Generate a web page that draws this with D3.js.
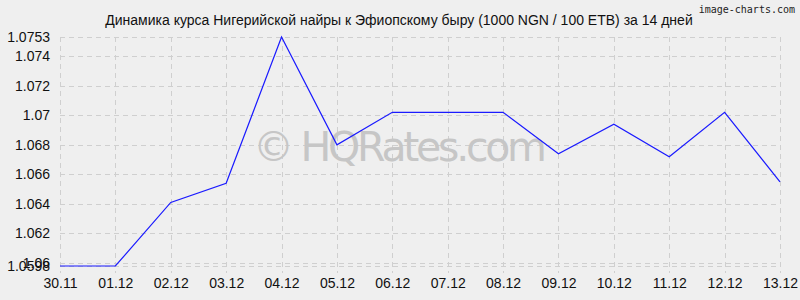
<!DOCTYPE html>
<html lang="ru">
<head>
  <meta charset="UTF-8" />
  <title>Динамика курса NGN / ETB</title>
  <script src="https://d3js.org/d3.v7.min.js"></script>
  <style>
    body { margin: 0; overflow: hidden; background: #efefef; }
    svg { background: #efefef; font-family: "Liberation Sans", Arial, sans-serif; }
    .grid line { stroke: #cfcfcf; stroke-width: 1px; stroke-dasharray: 5,4; shape-rendering: crispEdges; }
    .rate { fill: none; stroke: #1a1aff; stroke-width: 1.2px; }
  </style>
</head>
<body>
  <svg width="800" height="300"></svg>
  <script>
    const width = 800, height = 300;
    const margin = { top: 37, right: 20, bottom: 34, left: 60 };

    // данные
    const dates = ["30.11", "01.12", "02.12", "03.12", "04.12", "05.12", "06.12",
                   "07.12", "08.12", "09.12", "10.12", "11.12", "12.12", "13.12"];
    const rates = [1.0598, 1.0598, 1.0641, 1.0654, 1.0753, 1.0680, 1.0702,
                   1.0702, 1.0702, 1.0674, 1.0694, 1.0672, 1.0702, 1.0655];
    const yTicks = [1.0598, 1.06, 1.062, 1.064, 1.066, 1.068, 1.07, 1.072, 1.074, 1.0753];
    const yTickLabels = ["1.0598", "1.06", "1.062", "1.064", "1.066", "1.068", "1.07", "1.072", "1.074", "1.0753"];

    const svg = d3.select("svg");

    const x = d3.scalePoint()
      .domain(dates)
      .range([margin.left, width - margin.right]);
    const y = d3.scaleLinear()
      .domain([1.0598, 1.0753])
      .range([height - margin.bottom, margin.top]);

    // сетка
    const grid = svg.append("g").attr("class", "grid");
    grid.selectAll("line.h")
      .data(yTicks)
      .enter().append("line")
        .attr("class", "h")
        .attr("x1", margin.left).attr("x2", width - margin.right)
        .attr("y1", d => Math.round(y(d)) + 0.5).attr("y2", d => Math.round(y(d)) + 0.5);
    grid.selectAll("line.v")
      .data(dates)
      .enter().append("line")
        .attr("class", "v")
        .attr("x1", d => Math.round(x(d)) + 0.5).attr("x2", d => Math.round(x(d)) + 0.5)
        .attr("y1", margin.top).attr("y2", height - margin.bottom + 7);

    // оси (только подписи)
    const yAxis = svg.append("g")
      .attr("transform", `translate(${margin.left - 10},0)`)
      .call(d3.axisLeft(y).tickValues(yTicks).tickSize(0).tickFormat((d, i) => yTickLabels[i]));
    yAxis.select(".domain").remove();
    yAxis.selectAll("text")
      .attr("x", 0)
      .style("font-size", "14px")
      .style("font-family", "Liberation Sans, Arial, sans-serif")
      .attr("fill", "#111");

    const xAxis = svg.append("g")
      .attr("transform", `translate(0,${height - margin.bottom})`)
      .call(d3.axisBottom(x).tickSize(0));
    xAxis.select(".domain").remove();
    xAxis.selectAll("text")
      .attr("y", 12)
      .style("font-size", "14px")
      .style("font-family", "Liberation Sans, Arial, sans-serif")
      .attr("fill", "#111");

    // водяной знак
    svg.append("text")
      .attr("x", 400).attr("y", 161)
      .attr("text-anchor", "middle")
      .attr("textLength", 294)
      .style("font-family", "DejaVu Sans, Verdana, sans-serif")
      .style("font-size", "41px")
      .attr("fill", "#c6c6c6")
      .text("© HQRates.com");

    // линия курса
    const line = d3.line()
      .x((d, i) => x(dates[i]))
      .y(d => y(d));
    svg.append("path")
      .datum(rates)
      .attr("class", "rate")
      .attr("d", line);

    // заголовок
    svg.append("text")
      .attr("x", 399).attr("y", 25)
      .attr("text-anchor", "middle")
      .style("font-size", "14px")
      .attr("fill", "#111")
      .text("Динамика курса Нигерийской найры к Эфиопскому быру (1000 NGN / 100 ETB) за 14 дней");

    svg.append("text")
      .attr("x", 795).attr("y", 13)
      .attr("text-anchor", "end")
      .style("font-family", "DejaVu Sans Mono, monospace")
      .style("font-size", "10px")
      .attr("fill", "#222")
      .text("image-charts.com");
  </script>
</body>
</html>
